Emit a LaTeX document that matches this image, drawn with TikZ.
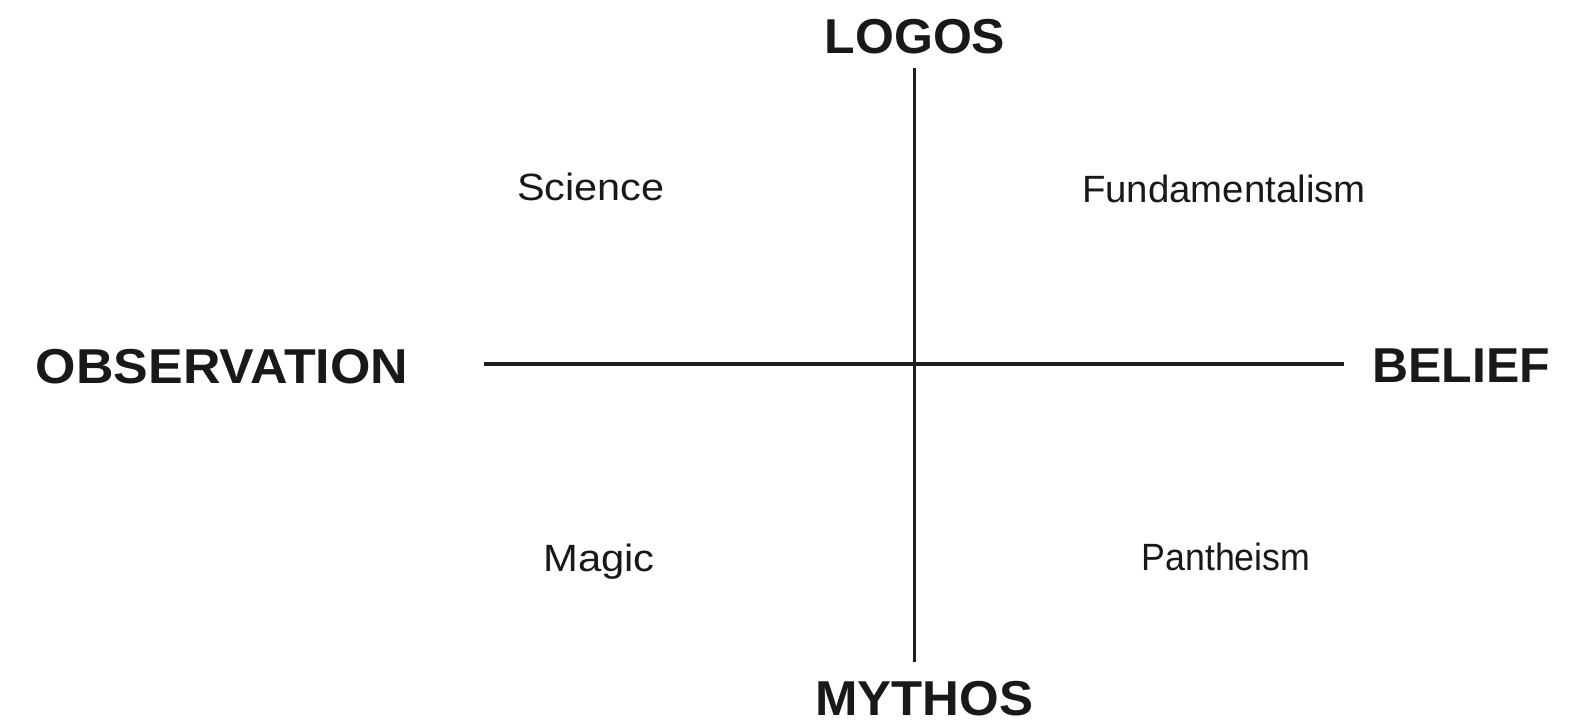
\documentclass[tikz,border=0pt]{standalone}
\usepackage{fontspec}
\setmainfont{Liberation Sans}
\begin{document}
\begin{tikzpicture}[x=1pt,y=-1pt,
  axislabel/.style={font=\fontsize{49}{52}\selectfont\bfseries, text=black!90, inner sep=0pt, anchor=base},
  quadlabel/.style={font=\fontsize{38}{40}\selectfont, text=black!90, inner sep=0pt, anchor=base},
  axisline/.style={line width=3.2pt, draw=black!88}]
\useasboundingbox[fill=white] (0,0) rectangle (1579,725);
% axis labels
\node[axislabel] (logos) at (915,53) {\scalebox{1.02}[1]{LOGOS}};
\node[axislabel] (mythos) at (924,715) {\scalebox{1.04}[1]{MYTHOS}};
\node[axislabel] (obs) at (222,383) {\scalebox{1.06}[1]{OBSERVATION}};
\node[axislabel] (belief) at (1461,382) {\scalebox{1.02}[1]{BELIEF}};
% quadrant labels
\node[quadlabel] (science) at (591,200) {\scalebox{1.09}[1]{Science}};
\node[quadlabel] (fund) at (1224,202) {\scalebox{1.01}[1]{Fundamentalism}};
\node[quadlabel] (magic) at (599,571) {\scalebox{1.1}[1]{Magic}};
\node[quadlabel] (panth) at (1226,570) {\scalebox{0.94}[1]{Pantheism}};
% axes
\coordinate (vtop) at (914.5,68);
\coordinate (vbot) at (914.5,662);
\coordinate (hleft) at (484,364);
\coordinate (hright) at (1344,364);
\draw[axisline] (vtop) -- (vbot);
\draw[axisline] (hleft) -- (hright);
\end{tikzpicture}
\end{document}
